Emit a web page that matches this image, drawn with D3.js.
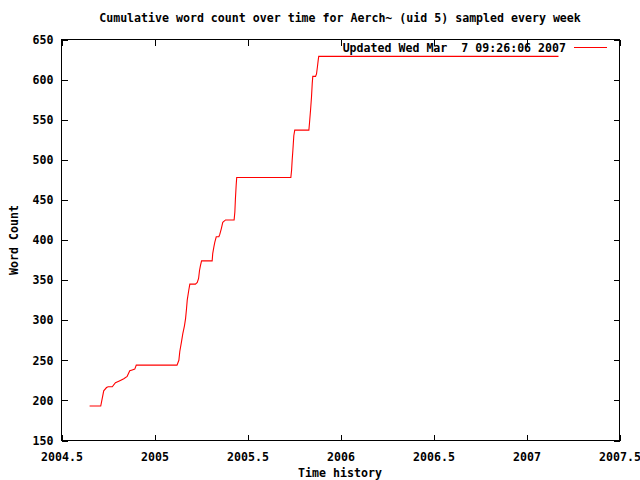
<!DOCTYPE html>
<html>
<head>
<meta charset="utf-8">
<script src="https://cdn.jsdelivr.net/npm/d3@7/dist/d3.min.js"></script>
<style>
  html, body { margin: 0; padding: 0; background: #fff; }
  svg { display: block; }
  text { font-family: "DejaVu Sans Mono", "Liberation Mono", monospace; font-weight: bold; font-size: 11.6px; fill: #000; white-space: pre; }
</style>
</head>
<body>
<svg id="chart" width="640" height="480"></svg>
<script>
// ---- data ----
const title = "Cumulative word count over time for Aerch~ (uid 5) sampled every week";
const xLabel = "Time history";
const yLabel = "Word Count";
const keyLabel = "Updated Wed Mar  7 09:26:06 2007";

const xTicks = [2004.5, 2005, 2005.5, 2006, 2006.5, 2007, 2007.5];
const yTicks = [150, 200, 250, 300, 350, 400, 450, 500, 550, 600, 650];

const times = [
  2004.651, 2004.711, 2004.727, 2004.742, 2004.751, 2004.773, 2004.790, 2004.808,
  2004.835, 2004.853, 2004.867, 2004.880, 2004.894, 2004.902, 2005.121, 2005.131,
  2005.136, 2005.145, 2005.152, 2005.161, 2005.167, 2005.172, 2005.176, 2005.184,
  2005.190, 2005.220, 2005.230, 2005.237, 2005.242, 2005.247, 2005.253, 2005.310,
  2005.313, 2005.319, 2005.324, 2005.332, 2005.346, 2005.351, 2005.359, 2005.367,
  2005.382, 2005.428, 2005.432, 2005.435, 2005.439, 2005.442, 2005.733, 2005.737,
  2005.740, 2005.744, 2005.749, 2005.754, 2005.830, 2005.833, 2005.839, 2005.844,
  2005.848, 2005.851, 2005.866, 2005.871, 2005.876, 2005.880, 2005.883, 2007.172
];
const counts = [
  193, 193, 212, 216, 217, 217, 222, 224,
  227, 230, 237, 238, 239, 244, 244, 250,
  261, 273, 283, 293, 302, 314, 325, 337,
  345, 345, 347, 352, 362, 368, 374, 374,
  383, 391, 397, 404, 404, 407, 414, 422,
  425, 425, 435, 451, 468, 478, 478, 487,
  499, 512, 530, 537, 537, 545, 562, 578,
  595, 604, 604, 607, 616, 624, 629, 629
];

// ---- layout ----
const svg = d3.select("#chart");
const L = 61, R = 619, T = 39, B = 440;
const x = d3.scaleLinear().domain([2004.5, 2007.5]).range([L, R]);
const y = d3.scaleLinear().domain([150, 650]).range([B, T]);
const tickLen = 6;
const fmtX = d => (d % 1 === 0 ? String(d) : d.toFixed(1));

const g = svg.append("g").attr("transform", "translate(0.5,0.5)");

const xAxisB = d3.axisBottom(x).tickValues(xTicks).tickSizeInner(-tickLen).tickSizeOuter(0).tickFormat(fmtX).tickPadding(12);
const xAxisT = d3.axisTop(x).tickValues(xTicks).tickSizeInner(-tickLen).tickSizeOuter(0).tickFormat("");
const yAxisL = d3.axisLeft(y).tickValues(yTicks).tickSizeInner(-tickLen).tickSizeOuter(0).tickPadding(8);
const yAxisR = d3.axisRight(y).tickValues(yTicks).tickSizeInner(-tickLen).tickSizeOuter(0).tickFormat("");

function style(sel) {
  sel.select(".domain").remove();
  sel.selectAll("line").attr("stroke", "#000").attr("shape-rendering", "crispEdges");
  sel.selectAll("text").attr("font-family", null).attr("font-size", null).attr("fill", "#000");
}
g.append("g").attr("transform", `translate(0,${B})`).call(xAxisB).call(style);
g.append("g").attr("transform", `translate(0,${T})`).call(xAxisT).call(style);
g.append("g").attr("transform", `translate(${L},0)`).call(yAxisL).call(style);
g.append("g").attr("transform", `translate(${R},0)`).call(yAxisR).call(style);

// border
g.append("rect").attr("x", L).attr("y", T).attr("width", R - L).attr("height", B - T)
  .attr("fill", "none").attr("stroke", "#000").attr("shape-rendering", "crispEdges");

// data line
const pts = times.map((t, i) => [t, counts[i]]);
const line = d3.line().x(d => x(d[0])).y(d => y(d[1]));
g.append("path").datum(pts).attr("d", line).attr("fill", "none").attr("stroke", "#ff0000").attr("stroke-width", 1.1);

// key
svg.append("text").attr("x", 566).attr("y", 48).attr("text-anchor", "end").attr("dominant-baseline", "middle")
  .attr("xml:space", "preserve").text(keyLabel);
svg.append("rect").attr("x", 574).attr("y", 47).attr("width", 33).attr("height", 1)
  .attr("fill", "#ff0000").attr("shape-rendering", "crispEdges");

// title and labels
svg.append("text").attr("x", 340).attr("y", 18).attr("text-anchor", "middle").attr("dominant-baseline", "middle").text(title);
svg.append("text").attr("x", 340).attr("y", 473).attr("text-anchor", "middle").attr("dominant-baseline", "middle").text(xLabel);
svg.append("text").attr("transform", "translate(14,240) rotate(-90)").attr("text-anchor", "middle").attr("dominant-baseline", "middle").text(yLabel);
</script>
</body>
</html>
